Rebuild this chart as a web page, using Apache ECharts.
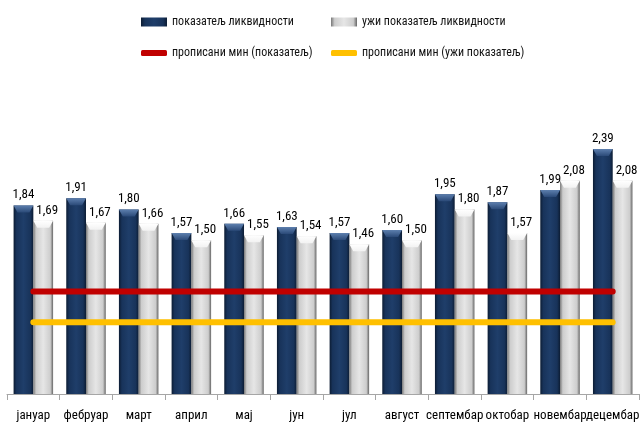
<!DOCTYPE html>
<html>
<head>
<meta charset="utf-8">
<script src="https://cdn.jsdelivr.net/npm/echarts@6/dist/echarts.min.js"></script>
<style>
  html, body { margin: 0; padding: 0; background: #fff; }
  #chart { width: 642px; height: 422px; }
</style>
</head>
<body>
<div id="chart"></div>
<script>
// Monthly liquidity ratios
const months = ['јануар', 'фебруар', 'март', 'април', 'мај', 'јун', 'јул', 'август', 'септембар', 'октобар', 'новембар', 'децембар'];
const liquidityRatio = [1.84, 1.91, 1.80, 1.57, 1.66, 1.63, 1.57, 1.60, 1.95, 1.87, 1.99, 2.39];
const narrowLiquidityRatio = [1.69, 1.67, 1.66, 1.50, 1.55, 1.54, 1.46, 1.50, 1.80, 1.57, 2.08, 2.08];
const minRatio = [1.0, 1.0, 1.0, 1.0, 1.0, 1.0, 1.0, 1.0, 1.0, 1.0, 1.0, 1.0];
const minNarrowRatio = [0.7, 0.7, 0.7, 0.7, 0.7, 0.7, 0.7, 0.7, 0.7, 0.7, 0.7, 0.7];

const seriesNames = ['показатељ ликвидности', 'ужи показатељ ликвидности', 'прописани мин (показатељ)', 'прописани мин (ужи показатељ)'];

const FONT = "'Roboto Condensed', sans-serif";

const chart = echarts.init(document.getElementById('chart'), null, { renderer: 'canvas' });

const navyFill = new echarts.graphic.LinearGradient(0, 0, 1, 0, [
  { offset: 0, color: '#0c1c33' },
  { offset: 0.15, color: '#18335a' },
  { offset: 0.5, color: '#1f3e6a' },
  { offset: 0.85, color: '#18335a' },
  { offset: 1, color: '#0c1c33' }
]);
const greyFill = new echarts.graphic.LinearGradient(0, 0, 1, 0, [
  { offset: 0, color: '#777777' },
  { offset: 0.14, color: '#cdcdcd' },
  { offset: 0.5, color: '#e6e6e6' },
  { offset: 0.86, color: '#cdcdcd' },
  { offset: 1, color: '#666666' }
]);
const navyCap = new echarts.graphic.LinearGradient(0, 0, 0, 1, [
  { offset: 0, color: '#5d7fae' },
  { offset: 1, color: '#2b4a78' }
]);
const greyCap = new echarts.graphic.LinearGradient(0, 0, 0, 1, [
  { offset: 0, color: '#ffffff' },
  { offset: 1, color: '#f2f2f2' }
]);

// bevelled roof drawn on top of each bar
const roofPath = 'path://M0,0 L20,0 L16,7 L4,7 Z';

const fmt = p => p.value.toFixed(2).replace('.', ',');

function legendItem(name, left, top, icon, w, h) {
  return {
    data: [name],
    left: left, top: top,
    padding: 0,
    icon: icon,
    itemWidth: w, itemHeight: h,
    itemGap: 2,
    textStyle: { fontFamily: FONT, fontSize: 12, color: '#111' },
    selectedMode: false
  };
}

const labelStyle = { show: true, position: 'top', distance: 4, formatter: fmt, fontFamily: FONT, fontSize: 13, color: '#000' };

chart.setOption({
  animation: false,
  legend: [
    legendItem(seriesNames[0], 141, 16, 'rect', 26, 9),
    legendItem(seriesNames[1], 331, 16, 'rect', 26, 9),
    legendItem(seriesNames[2], 141, 47, 'roundRect', 26, 6),
    legendItem(seriesNames[3], 331, 47, 'roundRect', 26, 6)
  ],
  grid: { left: 7, width: 641, top: 86.5, height: 307.5, containLabel: false },
  xAxis: {
    type: 'category',
    data: months,
    axisLine: { lineStyle: { color: '#a6a6a6', width: 1 } },
    axisTick: { show: true, length: 6, lineStyle: { color: '#a6a6a6' } },
    axisLabel: { fontFamily: FONT, fontSize: 13, color: '#000', margin: 15, interval: 0 }
  },
  yAxis: {
    type: 'value', min: 0, max: 3,
    show: false,
    splitLine: { show: false }
  },
  series: [
    {
      name: seriesNames[0], type: 'bar', data: liquidityRatio,
      barGap: '0%', barCategoryGap: '25%',
      itemStyle: { color: navyFill },
      label: labelStyle,
      z: 2
    },
    {
      name: seriesNames[1], type: 'bar', data: narrowLiquidityRatio,
      itemStyle: { color: greyFill },
      label: Object.assign({}, labelStyle, { offset: [4, 0] }),
      z: 2
    },
    {
      name: 'roof-a', type: 'pictorialBar', data: liquidityRatio,
      barGap: '0%', barCategoryGap: '25%',
      symbol: roofPath, symbolPosition: 'end', symbolSize: ['100%', 7],
      itemStyle: { color: navyCap }, silent: true, z: 3
    },
    {
      name: 'roof-b', type: 'pictorialBar', data: narrowLiquidityRatio,
      barGap: '0%', barCategoryGap: '25%',
      symbol: roofPath, symbolPosition: 'end', symbolSize: ['100%', 7],
      itemStyle: { color: greyCap }, silent: true, z: 3
    },
    {
      name: seriesNames[2], type: 'line', data: minRatio,
      symbol: 'none', itemStyle: { color: '#c00000' },
      lineStyle: { color: '#c00000', width: 6, cap: 'round' },
      z: 5
    },
    {
      name: seriesNames[3], type: 'line', data: minNarrowRatio,
      symbol: 'none', itemStyle: { color: '#ffc000' },
      lineStyle: { color: '#ffc000', width: 6, cap: 'round' },
      z: 5
    }
  ]
});
</script>
</body>
</html>
